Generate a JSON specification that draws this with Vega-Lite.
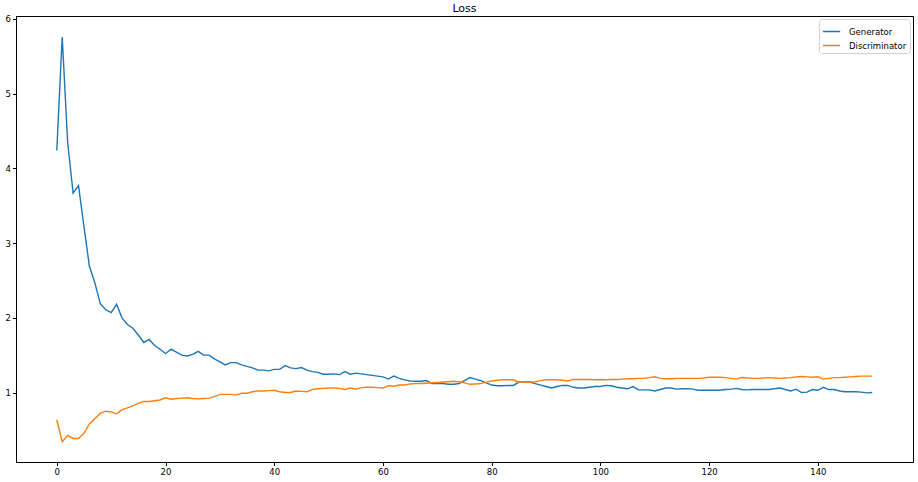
{
  "$schema": "https://vega.github.io/schema/vega-lite/v6.json",
  "autosize": "none",
  "width": 897,
  "height": 446,
  "padding": {"left": 16, "top": 16, "right": 5, "bottom": 20},
  "background": "white",
  "title": {"text": "Loss", "fontSize": 11, "fontWeight": "normal", "font": "DejaVu Sans", "color": "black", "anchor": "middle", "offset": 1},
  "config": {
    "view": {"stroke": "black", "strokeWidth": 1},
    "axis": {"grid": false, "domainColor": "black", "tickColor": "black", "tickSize": 3.5, "labelFont": "DejaVu Sans", "labelFontSize": 8.5, "labelColor": "black", "labelPadding": 2, "title": null},
    "legend": {"labelFont": "DejaVu Sans", "labelFontSize": 8.5, "labelColor": "black", "strokeColor": "#d0d0d0", "fillColor": "white", "padding": 3, "cornerRadius": 3, "symbolType": "stroke", "symbolSize": 300, "symbolStrokeWidth": 1.5, "rowPadding": -6, "labelOffset": 8, "title": null}
  },
  "data": {"values": [
    {"epoch":0,"Generator":4.24,"Discriminator":0.635},
    {"epoch":1,"Generator":5.76,"Discriminator":0.34},
    {"epoch":2,"Generator":4.35,"Discriminator":0.425},
    {"epoch":3,"Generator":3.67,"Discriminator":0.385},
    {"epoch":4,"Generator":3.77,"Discriminator":0.385},
    {"epoch":5,"Generator":3.22,"Discriminator":0.455},
    {"epoch":6,"Generator":2.69,"Discriminator":0.58},
    {"epoch":7,"Generator":2.47,"Discriminator":0.65},
    {"epoch":8,"Generator":2.19,"Discriminator":0.72},
    {"epoch":9,"Generator":2.11,"Discriminator":0.75},
    {"epoch":10,"Generator":2.07,"Discriminator":0.74},
    {"epoch":11,"Generator":2.18,"Discriminator":0.715},
    {"epoch":12,"Generator":2.0,"Discriminator":0.77},
    {"epoch":13,"Generator":1.91,"Discriminator":0.795},
    {"epoch":14,"Generator":1.86,"Discriminator":0.82},
    {"epoch":15,"Generator":1.77,"Discriminator":0.855},
    {"epoch":16,"Generator":1.67,"Discriminator":0.88},
    {"epoch":17,"Generator":1.71,"Discriminator":0.88},
    {"epoch":18,"Generator":1.63,"Discriminator":0.89},
    {"epoch":19,"Generator":1.58,"Discriminator":0.9},
    {"epoch":20,"Generator":1.52,"Discriminator":0.93},
    {"epoch":21,"Generator":1.58,"Discriminator":0.91},
    {"epoch":22,"Generator":1.54,"Discriminator":0.92},
    {"epoch":23,"Generator":1.5,"Discriminator":0.925},
    {"epoch":24,"Generator":1.49,"Discriminator":0.93},
    {"epoch":25,"Generator":1.51,"Discriminator":0.92},
    {"epoch":26,"Generator":1.55,"Discriminator":0.915},
    {"epoch":27,"Generator":1.5,"Discriminator":0.92},
    {"epoch":28,"Generator":1.5,"Discriminator":0.925},
    {"epoch":29,"Generator":1.45,"Discriminator":0.945},
    {"epoch":30,"Generator":1.41,"Discriminator":0.975},
    {"epoch":31,"Generator":1.37,"Discriminator":0.975},
    {"epoch":32,"Generator":1.4,"Discriminator":0.975},
    {"epoch":33,"Generator":1.4,"Discriminator":0.965},
    {"epoch":34,"Generator":1.37,"Discriminator":0.99},
    {"epoch":35,"Generator":1.35,"Discriminator":0.99},
    {"epoch":36,"Generator":1.33,"Discriminator":1.01},
    {"epoch":37,"Generator":1.3,"Discriminator":1.02},
    {"epoch":38,"Generator":1.3,"Discriminator":1.02},
    {"epoch":39,"Generator":1.29,"Discriminator":1.025},
    {"epoch":40,"Generator":1.31,"Discriminator":1.03},
    {"epoch":41,"Generator":1.31,"Discriminator":1.01},
    {"epoch":42,"Generator":1.36,"Discriminator":1.0},
    {"epoch":43,"Generator":1.33,"Discriminator":1.0},
    {"epoch":44,"Generator":1.32,"Discriminator":1.02},
    {"epoch":45,"Generator":1.335,"Discriminator":1.015},
    {"epoch":46,"Generator":1.3,"Discriminator":1.01},
    {"epoch":47,"Generator":1.28,"Discriminator":1.04},
    {"epoch":48,"Generator":1.27,"Discriminator":1.05},
    {"epoch":49,"Generator":1.245,"Discriminator":1.055},
    {"epoch":50,"Generator":1.245,"Discriminator":1.06},
    {"epoch":51,"Generator":1.25,"Discriminator":1.06},
    {"epoch":52,"Generator":1.24,"Discriminator":1.055},
    {"epoch":53,"Generator":1.28,"Discriminator":1.04},
    {"epoch":54,"Generator":1.245,"Discriminator":1.06},
    {"epoch":55,"Generator":1.26,"Discriminator":1.045},
    {"epoch":56,"Generator":1.25,"Discriminator":1.065},
    {"epoch":57,"Generator":1.24,"Discriminator":1.07},
    {"epoch":58,"Generator":1.23,"Discriminator":1.07},
    {"epoch":59,"Generator":1.22,"Discriminator":1.065},
    {"epoch":60,"Generator":1.21,"Discriminator":1.06},
    {"epoch":61,"Generator":1.18,"Discriminator":1.09},
    {"epoch":62,"Generator":1.22,"Discriminator":1.085},
    {"epoch":63,"Generator":1.19,"Discriminator":1.1},
    {"epoch":64,"Generator":1.17,"Discriminator":1.1},
    {"epoch":65,"Generator":1.155,"Discriminator":1.115},
    {"epoch":66,"Generator":1.15,"Discriminator":1.12},
    {"epoch":67,"Generator":1.15,"Discriminator":1.12},
    {"epoch":68,"Generator":1.16,"Discriminator":1.125},
    {"epoch":69,"Generator":1.12,"Discriminator":1.13},
    {"epoch":70,"Generator":1.12,"Discriminator":1.135},
    {"epoch":71,"Generator":1.12,"Discriminator":1.14},
    {"epoch":72,"Generator":1.11,"Discriminator":1.145},
    {"epoch":73,"Generator":1.11,"Discriminator":1.15},
    {"epoch":74,"Generator":1.12,"Discriminator":1.145},
    {"epoch":75,"Generator":1.16,"Discriminator":1.13},
    {"epoch":76,"Generator":1.2,"Discriminator":1.11},
    {"epoch":77,"Generator":1.18,"Discriminator":1.115},
    {"epoch":78,"Generator":1.16,"Discriminator":1.12},
    {"epoch":79,"Generator":1.13,"Discriminator":1.14},
    {"epoch":80,"Generator":1.1,"Discriminator":1.155},
    {"epoch":81,"Generator":1.09,"Discriminator":1.165},
    {"epoch":82,"Generator":1.09,"Discriminator":1.17},
    {"epoch":83,"Generator":1.095,"Discriminator":1.17},
    {"epoch":84,"Generator":1.095,"Discriminator":1.17},
    {"epoch":85,"Generator":1.14,"Discriminator":1.135},
    {"epoch":86,"Generator":1.14,"Discriminator":1.14},
    {"epoch":87,"Generator":1.14,"Discriminator":1.14},
    {"epoch":88,"Generator":1.12,"Discriminator":1.145},
    {"epoch":89,"Generator":1.1,"Discriminator":1.16},
    {"epoch":90,"Generator":1.08,"Discriminator":1.17},
    {"epoch":91,"Generator":1.06,"Discriminator":1.17},
    {"epoch":92,"Generator":1.08,"Discriminator":1.17},
    {"epoch":93,"Generator":1.095,"Discriminator":1.165},
    {"epoch":94,"Generator":1.095,"Discriminator":1.155},
    {"epoch":95,"Generator":1.07,"Discriminator":1.175},
    {"epoch":96,"Generator":1.06,"Discriminator":1.175},
    {"epoch":97,"Generator":1.06,"Discriminator":1.175},
    {"epoch":98,"Generator":1.07,"Discriminator":1.175},
    {"epoch":99,"Generator":1.08,"Discriminator":1.17},
    {"epoch":100,"Generator":1.08,"Discriminator":1.175},
    {"epoch":101,"Generator":1.095,"Discriminator":1.17},
    {"epoch":102,"Generator":1.09,"Discriminator":1.175},
    {"epoch":103,"Generator":1.07,"Discriminator":1.175},
    {"epoch":104,"Generator":1.06,"Discriminator":1.18},
    {"epoch":105,"Generator":1.05,"Discriminator":1.185},
    {"epoch":106,"Generator":1.08,"Discriminator":1.185},
    {"epoch":107,"Generator":1.035,"Discriminator":1.19},
    {"epoch":108,"Generator":1.035,"Discriminator":1.19},
    {"epoch":109,"Generator":1.035,"Discriminator":1.2},
    {"epoch":110,"Generator":1.02,"Discriminator":1.21},
    {"epoch":111,"Generator":1.04,"Discriminator":1.19},
    {"epoch":112,"Generator":1.06,"Discriminator":1.185},
    {"epoch":113,"Generator":1.06,"Discriminator":1.185},
    {"epoch":114,"Generator":1.045,"Discriminator":1.19},
    {"epoch":115,"Generator":1.05,"Discriminator":1.19},
    {"epoch":116,"Generator":1.05,"Discriminator":1.19},
    {"epoch":117,"Generator":1.045,"Discriminator":1.19},
    {"epoch":118,"Generator":1.03,"Discriminator":1.19},
    {"epoch":119,"Generator":1.03,"Discriminator":1.195},
    {"epoch":120,"Generator":1.03,"Discriminator":1.205},
    {"epoch":121,"Generator":1.03,"Discriminator":1.205},
    {"epoch":122,"Generator":1.03,"Discriminator":1.205},
    {"epoch":123,"Generator":1.04,"Discriminator":1.2},
    {"epoch":124,"Generator":1.045,"Discriminator":1.19},
    {"epoch":125,"Generator":1.055,"Discriminator":1.18},
    {"epoch":126,"Generator":1.04,"Discriminator":1.2},
    {"epoch":127,"Generator":1.035,"Discriminator":1.195},
    {"epoch":128,"Generator":1.04,"Discriminator":1.19},
    {"epoch":129,"Generator":1.04,"Discriminator":1.19},
    {"epoch":130,"Generator":1.04,"Discriminator":1.195},
    {"epoch":131,"Generator":1.04,"Discriminator":1.2},
    {"epoch":132,"Generator":1.05,"Discriminator":1.195},
    {"epoch":133,"Generator":1.06,"Discriminator":1.19},
    {"epoch":134,"Generator":1.04,"Discriminator":1.195},
    {"epoch":135,"Generator":1.02,"Discriminator":1.2},
    {"epoch":136,"Generator":1.045,"Discriminator":1.21},
    {"epoch":137,"Generator":1.0,"Discriminator":1.215},
    {"epoch":138,"Generator":1.005,"Discriminator":1.21},
    {"epoch":139,"Generator":1.04,"Discriminator":1.205},
    {"epoch":140,"Generator":1.03,"Discriminator":1.21},
    {"epoch":141,"Generator":1.07,"Discriminator":1.18},
    {"epoch":142,"Generator":1.04,"Discriminator":1.19},
    {"epoch":143,"Generator":1.04,"Discriminator":1.2},
    {"epoch":144,"Generator":1.02,"Discriminator":1.2},
    {"epoch":145,"Generator":1.01,"Discriminator":1.205},
    {"epoch":146,"Generator":1.01,"Discriminator":1.21},
    {"epoch":147,"Generator":1.01,"Discriminator":1.215},
    {"epoch":148,"Generator":1.005,"Discriminator":1.22},
    {"epoch":149,"Generator":0.995,"Discriminator":1.22},
    {"epoch":150,"Generator":1.0,"Discriminator":1.22}
  ]},
  "transform": [{"fold": ["Generator", "Discriminator"], "as": ["series", "loss"]}],
  "mark": {"type": "line", "strokeWidth": 1.4, "clip": true},
  "encoding": {
    "x": {"field": "epoch", "type": "quantitative", "scale": {"domain": [-7.5, 157.5], "nice": false, "zero": false}, "axis": {"values": [0, 20, 40, 60, 80, 100, 120, 140], "labelFlush": false}},
    "y": {"field": "loss", "type": "quantitative", "scale": {"domain": [0.07, 6.04], "nice": false, "zero": false}, "axis": {"values": [1, 2, 3, 4, 5, 6], "labelFlush": false}},
    "color": {"field": "series", "type": "nominal", "scale": {"domain": ["Generator", "Discriminator"], "range": ["#1f77b4", "#ff7f0e"]}, "legend": {"orient": "top-right", "offset": 3}},
    "order": {"field": "epoch", "type": "quantitative"}
  }
}
